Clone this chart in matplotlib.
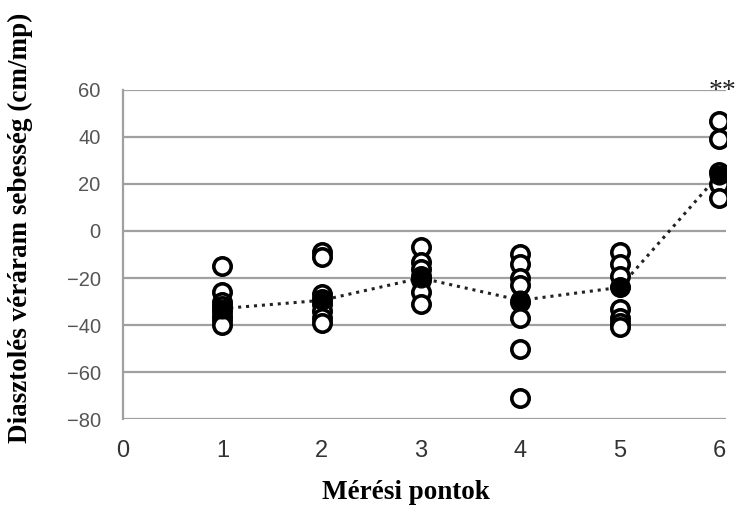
import matplotlib.pyplot as plt

points = [1, 2, 3, 4, 5, 6]
values = [
    [-15, -26, -30, -32, -34, -36, -38, -40],
    [-9, -11, -27, -29, -31, -34, -37, -39],
    [-7, -13, -16, -19, -21, -26, -31],
    [-10, -14, -20, -23, -30, -37, -50, -71],
    [-9, -14, -19, -24, -33, -37, -39, -41],
    [47, 39, 25, 20, 14],
]
means = [-33, -29.5, -20, -29.5, -24, 24]

x_ticks = [0, 1, 2, 3, 4, 5, 6]
y_ticks = [-80, -60, -40, -20, 0, 20, 40, 60]

fig = plt.figure(figsize=(7.39, 5.13), dpi=100)
ax = fig.add_axes([0.1664, 0.1832, 0.8160, 0.6414])

for y in y_ticks:
    ax.axhline(y, color="#a0a0a0", lw=1.6, zorder=0)

ax.plot(points, means, ls=(0, (1, 1.6)), color="#222222", lw=2.2, zorder=1)

for x, vals in zip(points, values):
    ax.plot([x] * len(vals), vals, ls="none", marker="o", ms=12.5,
            mfc="white", mec="black", mew=2.6, zorder=2)
ax.plot(points, means, ls="none", marker="o", ms=13.5, mfc="black",
        mec="black", zorder=3)

ax.text(6.04, 59.5, "**", ha="center", va="center", fontsize=20,
        family="Liberation Serif", color="#222222")

ax.set_xlim(0, 6.07)
ax.set_ylim(-80, 60)
ax.set_xticks(x_ticks)
ax.set_yticks(y_ticks)
ax.tick_params(length=0)
ax.tick_params(axis="x", pad=15, labelsize=17, labelcolor="#333333")
ax.tick_params(axis="y", pad=16, labelsize=14.5, labelcolor="#555555")
for lab in ax.get_xticklabels() + ax.get_yticklabels():
    lab.set_family("Liberation Sans")

for s in ["top", "right", "bottom"]:
    ax.spines[s].set_visible(False)
ax.spines["left"].set_color("#a0a0a0")
ax.spines["left"].set_linewidth(1.6)
ax.set_clip_on(False)

fig.text(0.028, 0.556, "Diasztolés véráram sebesség (cm/mp)", rotation=90,
         ha="center", va="center", fontsize=19.5, fontweight="bold",
         family="Liberation Serif")
fig.text(0.549, 0.039, "Mérési pontok", ha="center", va="center",
         fontsize=19.5, fontweight="bold", family="Liberation Serif")

fig.savefig("out.png", dpi=100)
